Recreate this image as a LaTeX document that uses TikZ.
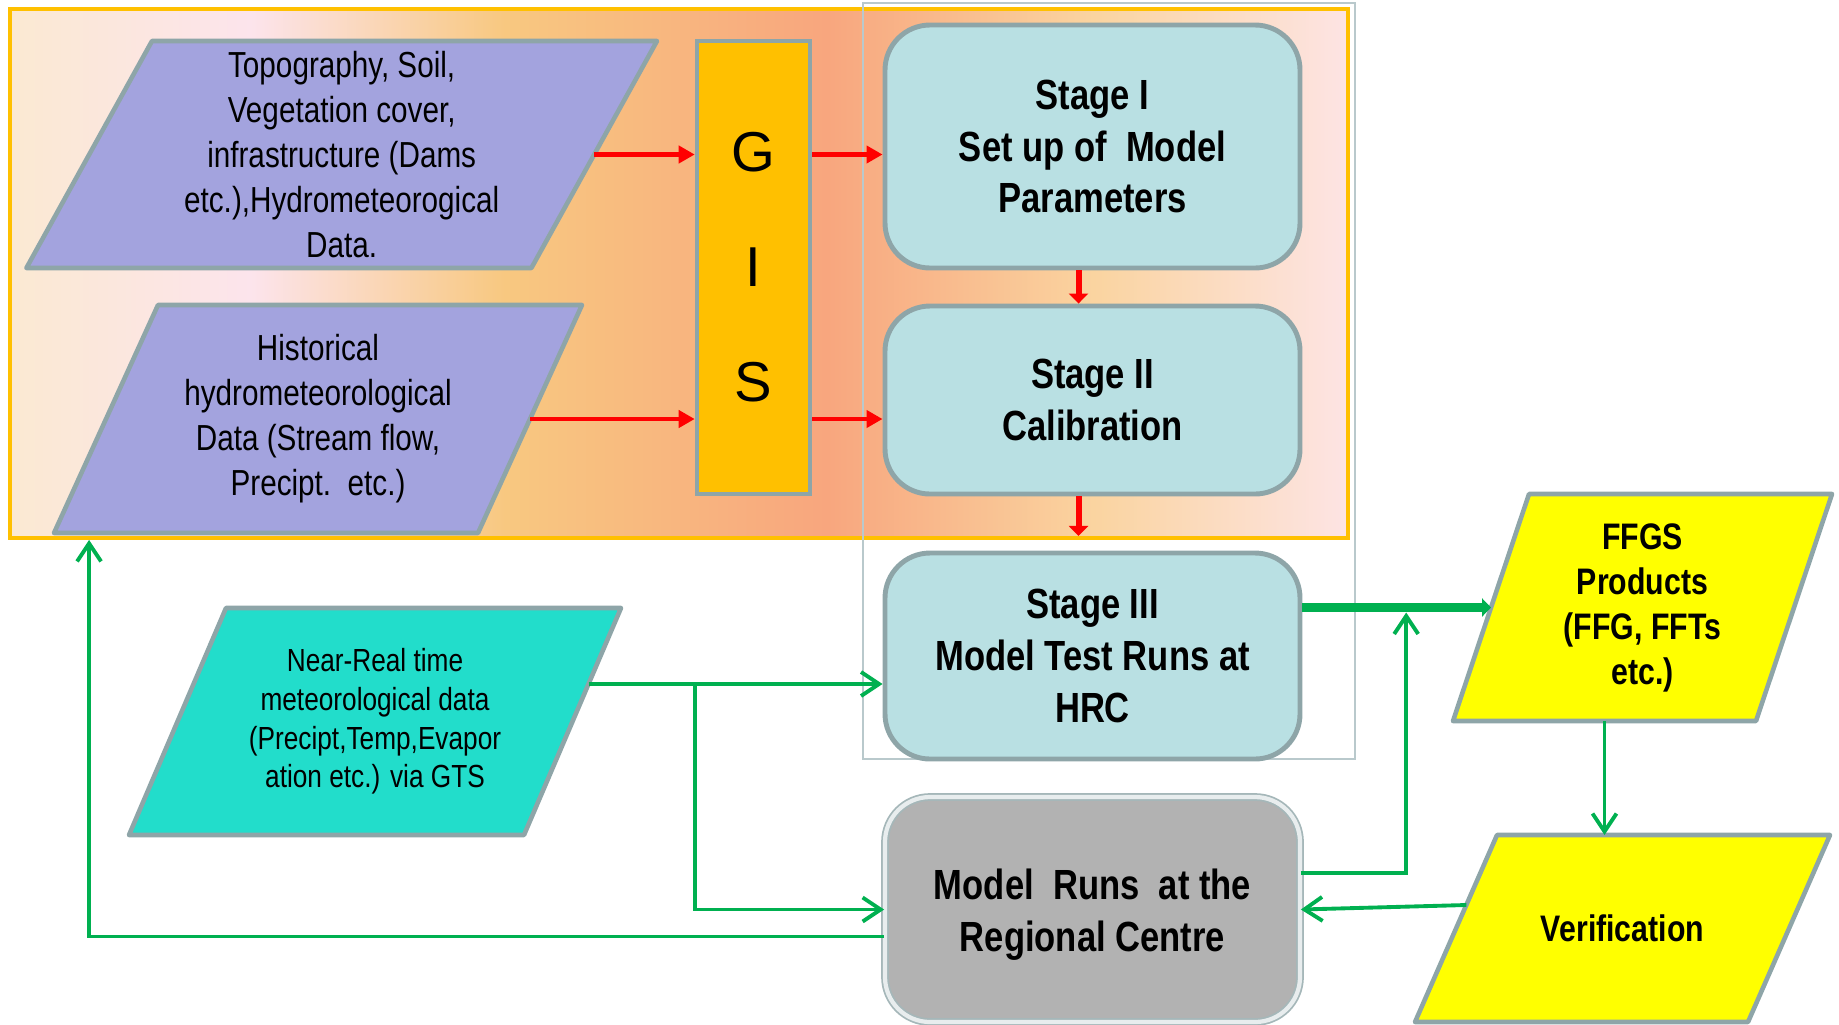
\documentclass[tikz,border=0pt]{standalone}
\usepackage{fontspec}
\setmainfont{Liberation Sans}[FakeStretch=0.82]
\newfontfamily\gisfont{Liberation Sans}
\usepackage{tikz}
\definecolor{bandorange}{HTML}{FFC000}
\definecolor{bandA}{HTML}{FBE9D2}
\definecolor{bandB}{HTML}{FCE4EC}
\definecolor{bandC}{HTML}{F8C880}
\definecolor{bandD}{HTML}{F8A67E}
\definecolor{bandE}{HTML}{FAD4A0}
\definecolor{bandF}{HTML}{FDE4E4}
\definecolor{edgegray}{HTML}{8EA5A8}
\definecolor{framegray}{HTML}{B9C9CC}
\definecolor{datapurple}{HTML}{A3A3DE}
\definecolor{stagefill}{HTML}{B9E0E3}
\definecolor{gisyellow}{HTML}{FFC000}
\definecolor{nrtcyan}{HTML}{22DDCB}
\definecolor{prodyellow}{HTML}{FFFF00}
\definecolor{runsgray}{HTML}{B2B2B2}
\definecolor{flowgreen}{HTML}{00B050}
\usetikzlibrary{arrows.meta,positioning,shapes.geometric,calc}
\pgfdeclarehorizontalshading{bandshade}{100bp}{color(0bp)=(bandA); color(25bp)=(bandA); color(34bp)=(bandB); color(43.5bp)=(bandC); color(55.5bp)=(bandD); color(65.5bp)=(bandE); color(75bp)=(bandF); color(100bp)=(bandF)}
\pgfdeclarelayer{back}
\pgfdeclarelayer{shapes}
\pgfsetlayers{back,shapes,main}

\begin{document}
\begin{tikzpicture}[
  datatext/.style={rectangle, inner sep=0pt, outer sep=0pt, align=center},
  dataedge/.style={draw=edgegray, line width=1.3pt, line join=round},
  stagebox/.style={rectangle, rounded corners=0.45cm, draw=edgegray, line width=1.4pt, fill=stagefill, minimum width=4.15cm, align=center, font=\bfseries\fontsize{12}{14.7}\selectfont},
  redline/.style={-{Triangle[length=0.16cm,width=0.17cm]}, line width=1.3pt, red},
  reddown/.style={-{Triangle[length=0.1cm,width=0.19cm]}, line width=1.7pt, red},
  greenline/.style={-{Straight Barb[length=0.18cm,width=0.24cm]}, line width=1.1pt, flowgreen},
  thickgreen/.style={-{Triangle[length=0.09cm,width=0.18cm]}, line width=2.3pt, flowgreen}
]
  \useasboundingbox (0,0) rectangle (18.39,-10.24);

  % Shaded band and the frame round the stages
  \begin{pgfonlayer}{back}
  \node[draw=bandorange, line width=1.1pt, shading=bandshade, inner sep=0pt, minimum width=13.38cm, minimum height=5.29cm] (band) at (6.79,-2.735) {};
  \node[draw=framegray, line width=0.4pt, inner sep=0pt, minimum width=4.92cm, minimum height=7.56cm] (stagecol) at (11.09,-3.81) {};
  \end{pgfonlayer}

  % Input data
  \node[datatext, minimum width=5.05cm, minimum height=2.27cm, font=\fontsize{10.3}{12.8}\selectfont] (topo) at (3.417,-1.545) {Topography, Soil,\\Vegetation cover,\\infrastructure (Dams\\etc.),Hydrometeorogical\\Data.};
  \node[datatext, minimum width=4.24cm, minimum height=2.28cm, font=\fontsize{10.3}{12.8}\selectfont] (hist) at (3.18,-4.19) {Historical\\hydrometeorological\\Data (Stream flow,\\Precipt.\ \ etc.)};
  \node[datatext, minimum width=3.95cm, minimum height=2.27cm, font=\fontsize{9.1}{11}\selectfont] (nrt) at (3.75,-7.215) {Near-Real time\\meteorological data\\(Precipt,Temp,Evapor\\ation etc.) via GTS};

  % Products
  \node[datatext, minimum width=3.03cm, minimum height=2.27cm, font=\bfseries\fontsize{10.5}{12.8}\selectfont] (ffgs) at (16.425,-6.075) {FFGS\\Products\\(FFG, FFTs\\etc.)};
  \node[datatext, minimum width=3.33cm, minimum height=1.87cm, font=\bfseries\fontsize{10.5}{12.8}\selectfont] (verif) at (16.225,-9.285) {Verification};

  % Slanted outlines
  \begin{pgfonlayer}{shapes}
  \draw[dataedge, fill=datapurple] ([xshift=0.628cm]topo.north west) -- ([xshift=0.628cm]topo.north east) -- ([xshift=-0.628cm]topo.south east) -- ([xshift=-0.628cm]topo.south west) -- cycle;
  \draw[dataedge, fill=datapurple] ([xshift=0.52cm]hist.north west) -- ([xshift=0.52cm]hist.north east) -- ([xshift=-0.52cm]hist.south east) -- ([xshift=-0.52cm]hist.south west) -- cycle;
  \draw[dataedge, fill=nrtcyan] ([xshift=0.485cm]nrt.north west) -- ([xshift=0.485cm]nrt.north east) -- ([xshift=-0.485cm]nrt.south east) -- ([xshift=-0.485cm]nrt.south west) -- cycle;
  \draw[dataedge, fill=prodyellow] ([xshift=0.38cm]ffgs.north west) -- ([xshift=0.38cm]ffgs.north east) -- ([xshift=-0.38cm]ffgs.south east) -- ([xshift=-0.38cm]ffgs.south west) -- cycle;
  \draw[dataedge, fill=prodyellow] ([xshift=0.41cm]verif.north west) -- ([xshift=0.41cm]verif.north east) -- ([xshift=-0.41cm]verif.south east) -- ([xshift=-0.41cm]verif.south west) -- cycle;
  \end{pgfonlayer}

  % GIS
  \node[draw=edgegray, line width=1.3pt, fill=gisyellow, minimum width=1.13cm, minimum height=4.53cm, align=center, font=\gisfont\fontsize{16}{32.7}\selectfont] (gis) at (7.535,-2.675) {G\\I\\S};

  % Stages
  \node[stagebox, minimum height=2.43cm] (stage1) at (10.925,-1.465) {Stage I\\Set up of\ \ Model\\Parameters};
  \node[stagebox, minimum height=1.88cm] (stage2) at (10.925,-4.00) {Stage II\\Calibration};
  \node[stagebox, minimum height=2.06cm] (stage3) at (10.925,-6.56) {Stage III\\Model Test Runs at\\HRC};
  \node[stagebox, fill=runsgray, draw=edgegray!80, line width=0.5pt, double=white!80!edgegray, double distance=1.2pt, minimum height=2.25cm, text height=0.93cm] (runs) at (10.925,-9.095) {Model\ \ Runs\ \ at the\\Regional Centre};

  % Red flow
  \draw[redline] (topo.east) -- (topo.east -| gis.west);
  \draw[redline] (gis.east |- topo.east) -- (stage1.west |- topo.east);
  \draw[redline] (hist.east) -- (hist.east -| gis.west);
  \draw[redline] (gis.east |- hist.east) -- (stage2.west |- hist.east);
  \draw[reddown] ([xshift=-0.14cm]stage1.south) -- ([xshift=-0.14cm]stage2.north);
  \draw[reddown] ([xshift=-0.14cm]stage2.south) -- ([xshift=-0.14cm,yshift=0.04cm]stage2.south |- band.south);

  % Green flow
  \coordinate (nrtout) at ([shift={(0.16cm,0.375cm)}]nrt.east);
  \coordinate (join) at ($(stage3.east |- ffgs.west)!0.55!(ffgs.west)$);
  \coordinate (verifout) at ([shift={(0.103cm,0.235cm)}]verif.west);
  \draw[greenline] (nrtout) -- (nrtout -| stage3.west);
  \draw[greenline] (nrtout -| gis.west) |- (runs.west);
  \draw[greenline] ([yshift=-0.27cm]runs.west) -| ([xshift=0.81cm]band.south west);
  \draw[thickgreen] (stage3.east |- ffgs.west) -- (ffgs.west);
  \draw[greenline] ([yshift=0.365cm]runs.east) -| ([yshift=-0.05cm]join);
  \draw[greenline] ([xshift=-0.38cm]ffgs.south) -- ([xshift=-0.38cm]ffgs.south |- verif.north);
  \draw[greenline] (verifout) -- (runs.east);
\end{tikzpicture}
\end{document}
